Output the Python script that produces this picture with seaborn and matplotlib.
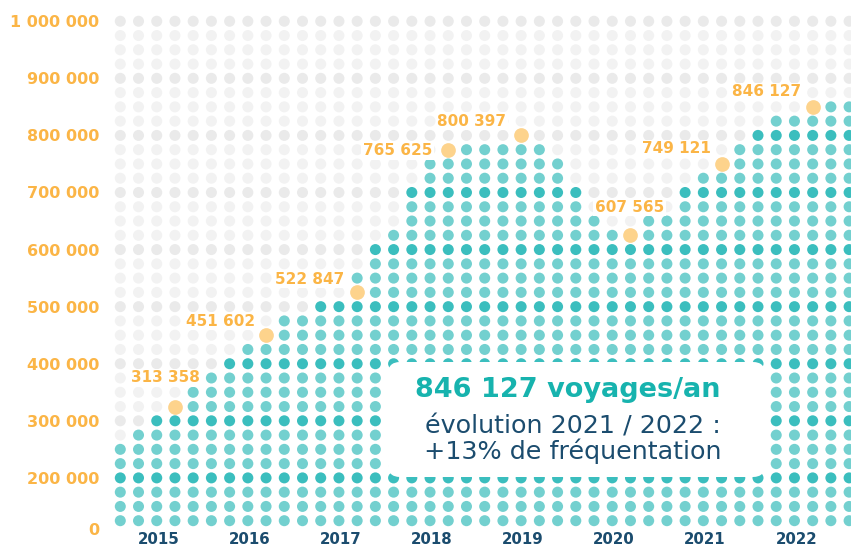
import numpy as np
import pandas as pd
import matplotlib.pyplot as plt
import seaborn as sns
from matplotlib.patches import FancyBboxPatch
from matplotlib.transforms import IdentityTransform, blended_transform_factory

# years shown under the grid, 5 dot columns per year
years = ['2015', '2016', '2017', '2018', '2019', '2020', '2021', '2022']
cols_per_year = 5

# top of the teal stack for each dot column
column_heights = [250000, 275000, 300000, 300000, 350000,
                  375000, 400000, 425000, 425000, 475000,
                  475000, 500000, 500000, 550000, 600000,
                  625000, 700000, 750000, 750000, 775000,
                  775000, 775000, 775000, 775000, 750000,
                  700000, 650000, 625000, 600000, 650000,
                  650000, 700000, 725000, 725000, 775000,
                  800000, 825000, 825000, 825000, 850000,
                  850000]

# yearly totals highlighted with a yellow dot
highlight_values = [313358, 451602, 522847, 765625, 800397, 607565, 749121, 846127]
highlight_columns = [3, 8, 13, 18, 22, 28, 33, 38]
highlight_levels = [325000, 450000, 525000, 775000, 800000, 625000, 750000, 850000]

ytick_values = [200000, 300000, 400000, 500000, 600000, 700000, 800000, 900000, 1000000]

row_step = 25000
row_min = 125000
row_max = 1000000

TEAL = '#73D0CF'
TEAL_DARK = '#3BBEBE'
GREY = '#F2F2F2'
GREY_DARK = '#EAEAEA'
YELLOW = '#FDD38C'
ORANGE = '#FBB546'
NAVY = '#1B4C6E'
TITLE_TEAL = '#17B3AE'


def build_grid():
    rows = []
    for col, height in enumerate(column_heights):
        for v in range(row_min, row_max + 1, row_step):
            dark = v % 100000 == 0
            if v <= height:
                kind = 'teal_dark' if dark else 'teal'
            else:
                kind = 'grey_dark' if dark else 'grey'
            rows.append({'col': col, 'value': v, 'kind': kind})
    return pd.DataFrame(rows)


def fmt(v):
    return f'{v:,}'.replace(',', ' ')


def main():
    sns.set_style('white')
    plt.rcParams['font.family'] = ['DejaVu Sans']

    fig = plt.figure(figsize=(8.51, 5.47), dpi=100)
    ax = fig.add_axes([110 / 851, 7 / 547, 741 / 851, 540 / 547])

    grid = build_grid()
    palette = {'teal': TEAL, 'teal_dark': TEAL_DARK, 'grey': GREY, 'grey_dark': GREY_DARK}
    sns.scatterplot(data=grid, x='col', y='value', hue='kind', palette=palette,
                    s=63, linewidth=0, legend=False, ax=ax, zorder=2)

    hl = pd.DataFrame({'col': highlight_columns, 'value': highlight_levels})
    sns.scatterplot(data=hl, x='col', y='value', color=YELLOW, s=112,
                    linewidth=0, legend=False, ax=ax, zorder=3)

    # label offsets in pixels relative to the yellow dot
    offsets = [(-10, 29, 'center'), (-11, 14, 'right'), (-13, 13, 'right'),
               (-16, -1, 'right'), (-15, 14, 'right'), (-1, 28, 'center'),
               (-11, 15, 'right'), (-12, 15, 'right')]
    for c, lvl, val, (dx, dy, ha) in zip(highlight_columns, highlight_levels,
                                         highlight_values, offsets):
        ax.annotate(fmt(val), xy=(c, lvl), xytext=(dx, dy), textcoords='offset pixels',
                    ha=ha, va='center', fontsize=11, fontweight='bold', color=ORANGE,
                    zorder=4,
                    bbox=dict(boxstyle='square,pad=0.1', fc='white', ec='none'))

    ax.set_xlim(-0.565, 40.104)
    ax.set_ylim(91188, 1037228)

    ax.set_yticks([110000] + ytick_values)
    ax.set_yticklabels(['0'] + [fmt(v) for v in ytick_values])
    ax.tick_params(axis='y', length=0, pad=8, labelsize=11.5, labelcolor=ORANGE)
    for t in ax.get_yticklabels():
        t.set_fontweight('bold')

    ax.set_xticks(np.arange(0, len(years) * cols_per_year + 1, cols_per_year))
    ax.tick_params(axis='x', length=5, width=1, color='#333333', labelbottom=False,
                   direction='out')
    ax.set_xlabel('')
    ax.set_ylabel('')
    for s in ax.spines.values():
        s.set_visible(False)

    trans = blended_transform_factory(ax.transData, IdentityTransform())
    for i, y in enumerate(years):
        fig.text(i * cols_per_year + (cols_per_year - 1) / 2 + 0.1, 0.5, y,
                 transform=trans, ha='center', va='bottom', fontsize=10.8,
                 fontweight='bold', color=NAVY)

    box = FancyBboxPatch((388, 70), 377, 115, boxstyle='round,pad=0,rounding_size=12',
                         transform=IdentityTransform(), fc='white', ec='none', zorder=5)
    fig.patches.append(box)

    fig.text(568, 150.3, '846 127 voyages/an', transform=IdentityTransform(),
             ha='center', va='baseline', fontsize=19.5, fontweight='bold',
             color=TITLE_TEAL, zorder=6)
    fig.text(573, 113.5, 'évolution 2021 / 2022 :', transform=IdentityTransform(),
             ha='center', va='baseline', fontsize=18.3, color=NAVY, zorder=6)
    fig.text(573, 87.7, '+13% de fréquentation', transform=IdentityTransform(),
             ha='center', va='baseline', fontsize=18.3, color=NAVY, zorder=6)

    fig.savefig('out.png', dpi=100)
    plt.close(fig)


if __name__ == '__main__':
    main()
